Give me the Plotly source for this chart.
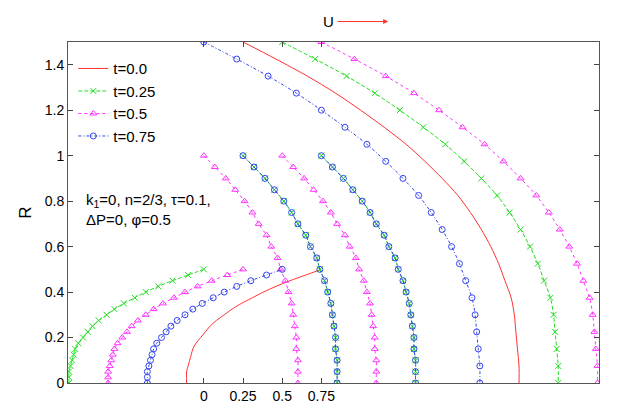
import plotly.graph_objects as go

# shared profile shapes (R, x-offset from start)
outer_r = [1.5, 1.425, 1.35, 1.275, 1.2, 1.125, 1.05, 0.975, 0.9, 0.825, 0.75,
           0.675, 0.6, 0.525, 0.45, 0.375, 0.3, 0.225, 0.15, 0.075, 0.0]
outer_dx = [0, 0.21, 0.41, 0.59, 0.75, 0.90, 1.04, 1.16, 1.27, 1.37, 1.45,
            1.52, 1.58, 1.63, 1.67, 1.71, 1.73, 1.74, 1.75, 1.76, 1.76]

inner_r = [1.0, 0.95, 0.9, 0.85, 0.8, 0.75, 0.7, 0.65, 0.6, 0.55, 0.5,
           0.45, 0.4, 0.35, 0.3, 0.25, 0.2, 0.15, 0.1, 0.05, 0.0]
inner_dx = [0, 0.07, 0.14, 0.20, 0.26, 0.31, 0.35, 0.40, 0.43, 0.47, 0.49,
            0.52, 0.54, 0.56, 0.57, 0.58, 0.59, 0.59, 0.60, 0.60, 0.60]

core_r = [0.0, 0.025, 0.05, 0.075, 0.1, 0.125, 0.15, 0.175, 0.2, 0.225, 0.25,
          0.275, 0.3, 0.325, 0.35, 0.375, 0.4, 0.425, 0.45, 0.475, 0.5]
core_dx = [0, 0.00, 0.00, 0.01, 0.02, 0.03, 0.04, 0.06, 0.09, 0.12, 0.15,
           0.19, 0.24, 0.29, 0.35, 0.42, 0.49, 0.57, 0.66, 0.76, 0.86]

# start positions of each curve per time
times = ['t=0.0', 't=0.25', 't=0.5', 't=0.75']
outer_start = {'t=0.0': [0.25], 't=0.25': [0.5], 't=0.5': [0.75], 't=0.75': [0.0]}
inner_start = {'t=0.0': [], 't=0.25': [0.25, 0.75], 't=0.5': [0.0, 0.5], 't=0.75': [0.25, 0.75]}
core_start = {'t=0.0': [-0.11], 't=0.25': [-0.86], 't=0.5': [-0.61], 't=0.75': [-0.36]}

styles = {
    't=0.0': dict(color='#ff3030', dash='solid', symbol=None),
    't=0.25': dict(color='#22dd22', dash='4px,2px', symbol='x-thin-open'),
    't=0.5': dict(color='#ff33ff', dash='dot', symbol='triangle-up-open'),
    't=0.75': dict(color='#3344ee', dash='3px,2px,1px,2px', symbol='circle-open'),
}

fig = go.Figure()
for t in times:
    st = styles[t]
    first = True
    groups = [(outer_start[t], outer_r, outer_dx),
              (inner_start[t], inner_r, inner_dx),
              (core_start[t], core_r, core_dx)]
    for starts, rr, dd in groups:
        for x0 in starts:
            fig.add_trace(go.Scatter(
                x=[x0 + d for d in dd], y=rr, name=t, legendgroup=t,
                showlegend=first,
                mode='lines' if st['symbol'] is None else 'lines+markers',
                line=dict(color=st['color'], width=1, dash=st['dash'],
                          shape='spline', smoothing=0.8),
                marker=dict(symbol=st['symbol'] or 'circle', size=6,
                            color=st['color'], line=dict(width=1, color=st['color'])),
            ))
            first = False

fig.update_layout(
    width=623, height=415,
    margin=dict(l=60, r=32, t=34, b=40),
    plot_bgcolor='white', paper_bgcolor='white',
    font=dict(family='Liberation Sans, Arial, sans-serif', size=14, color='black'),
    legend=dict(x=0.01, y=0.97, xanchor='left', yanchor='top',
                bgcolor='rgba(0,0,0,0)', tracegroupgap=0, font=dict(size=15)),
    xaxis=dict(range=[-0.866, 2.52], tickvals=[0, 0.25, 0.5, 0.75],
               ticktext=['0', '0.25', '0.5', '0.75'], ticks='inside', ticklen=5,
               showgrid=False, zeroline=False, showline=True, linecolor='#555',
               linewidth=1, mirror='ticks'),
    yaxis=dict(range=[0, 1.5], tickvals=[0, 0.2, 0.4, 0.6, 0.8, 1, 1.2, 1.4],
               ticks='inside', ticklen=5, showgrid=False, zeroline=False,
               showline=True, linecolor='#555', linewidth=1, mirror='ticks',
               title=dict(text='R', standoff=8)),
)

fig.add_annotation(xref='paper', yref='paper', x=0.49, y=1.06, xanchor='center',
                   yanchor='middle', showarrow=False, text='U', font=dict(size=15))
fig.add_annotation(xref='paper', yref='paper', x=0.603, y=1.06, ax=-52, ay=0,
                   text='', showarrow=True, arrowhead=2, arrowwidth=1,
                   arrowcolor='#ff3030')
fig.add_annotation(xref='paper', yref='paper', x=0.03, y=0.51, xanchor='left',
                   yanchor='middle', align='left', showarrow=False,
                   text='k<sub>1</sub>=0, n=2/3, τ=0.1,<br>ΔP=0, φ=0.5',
                   font=dict(size=15))

fig.write_html('out.html')
